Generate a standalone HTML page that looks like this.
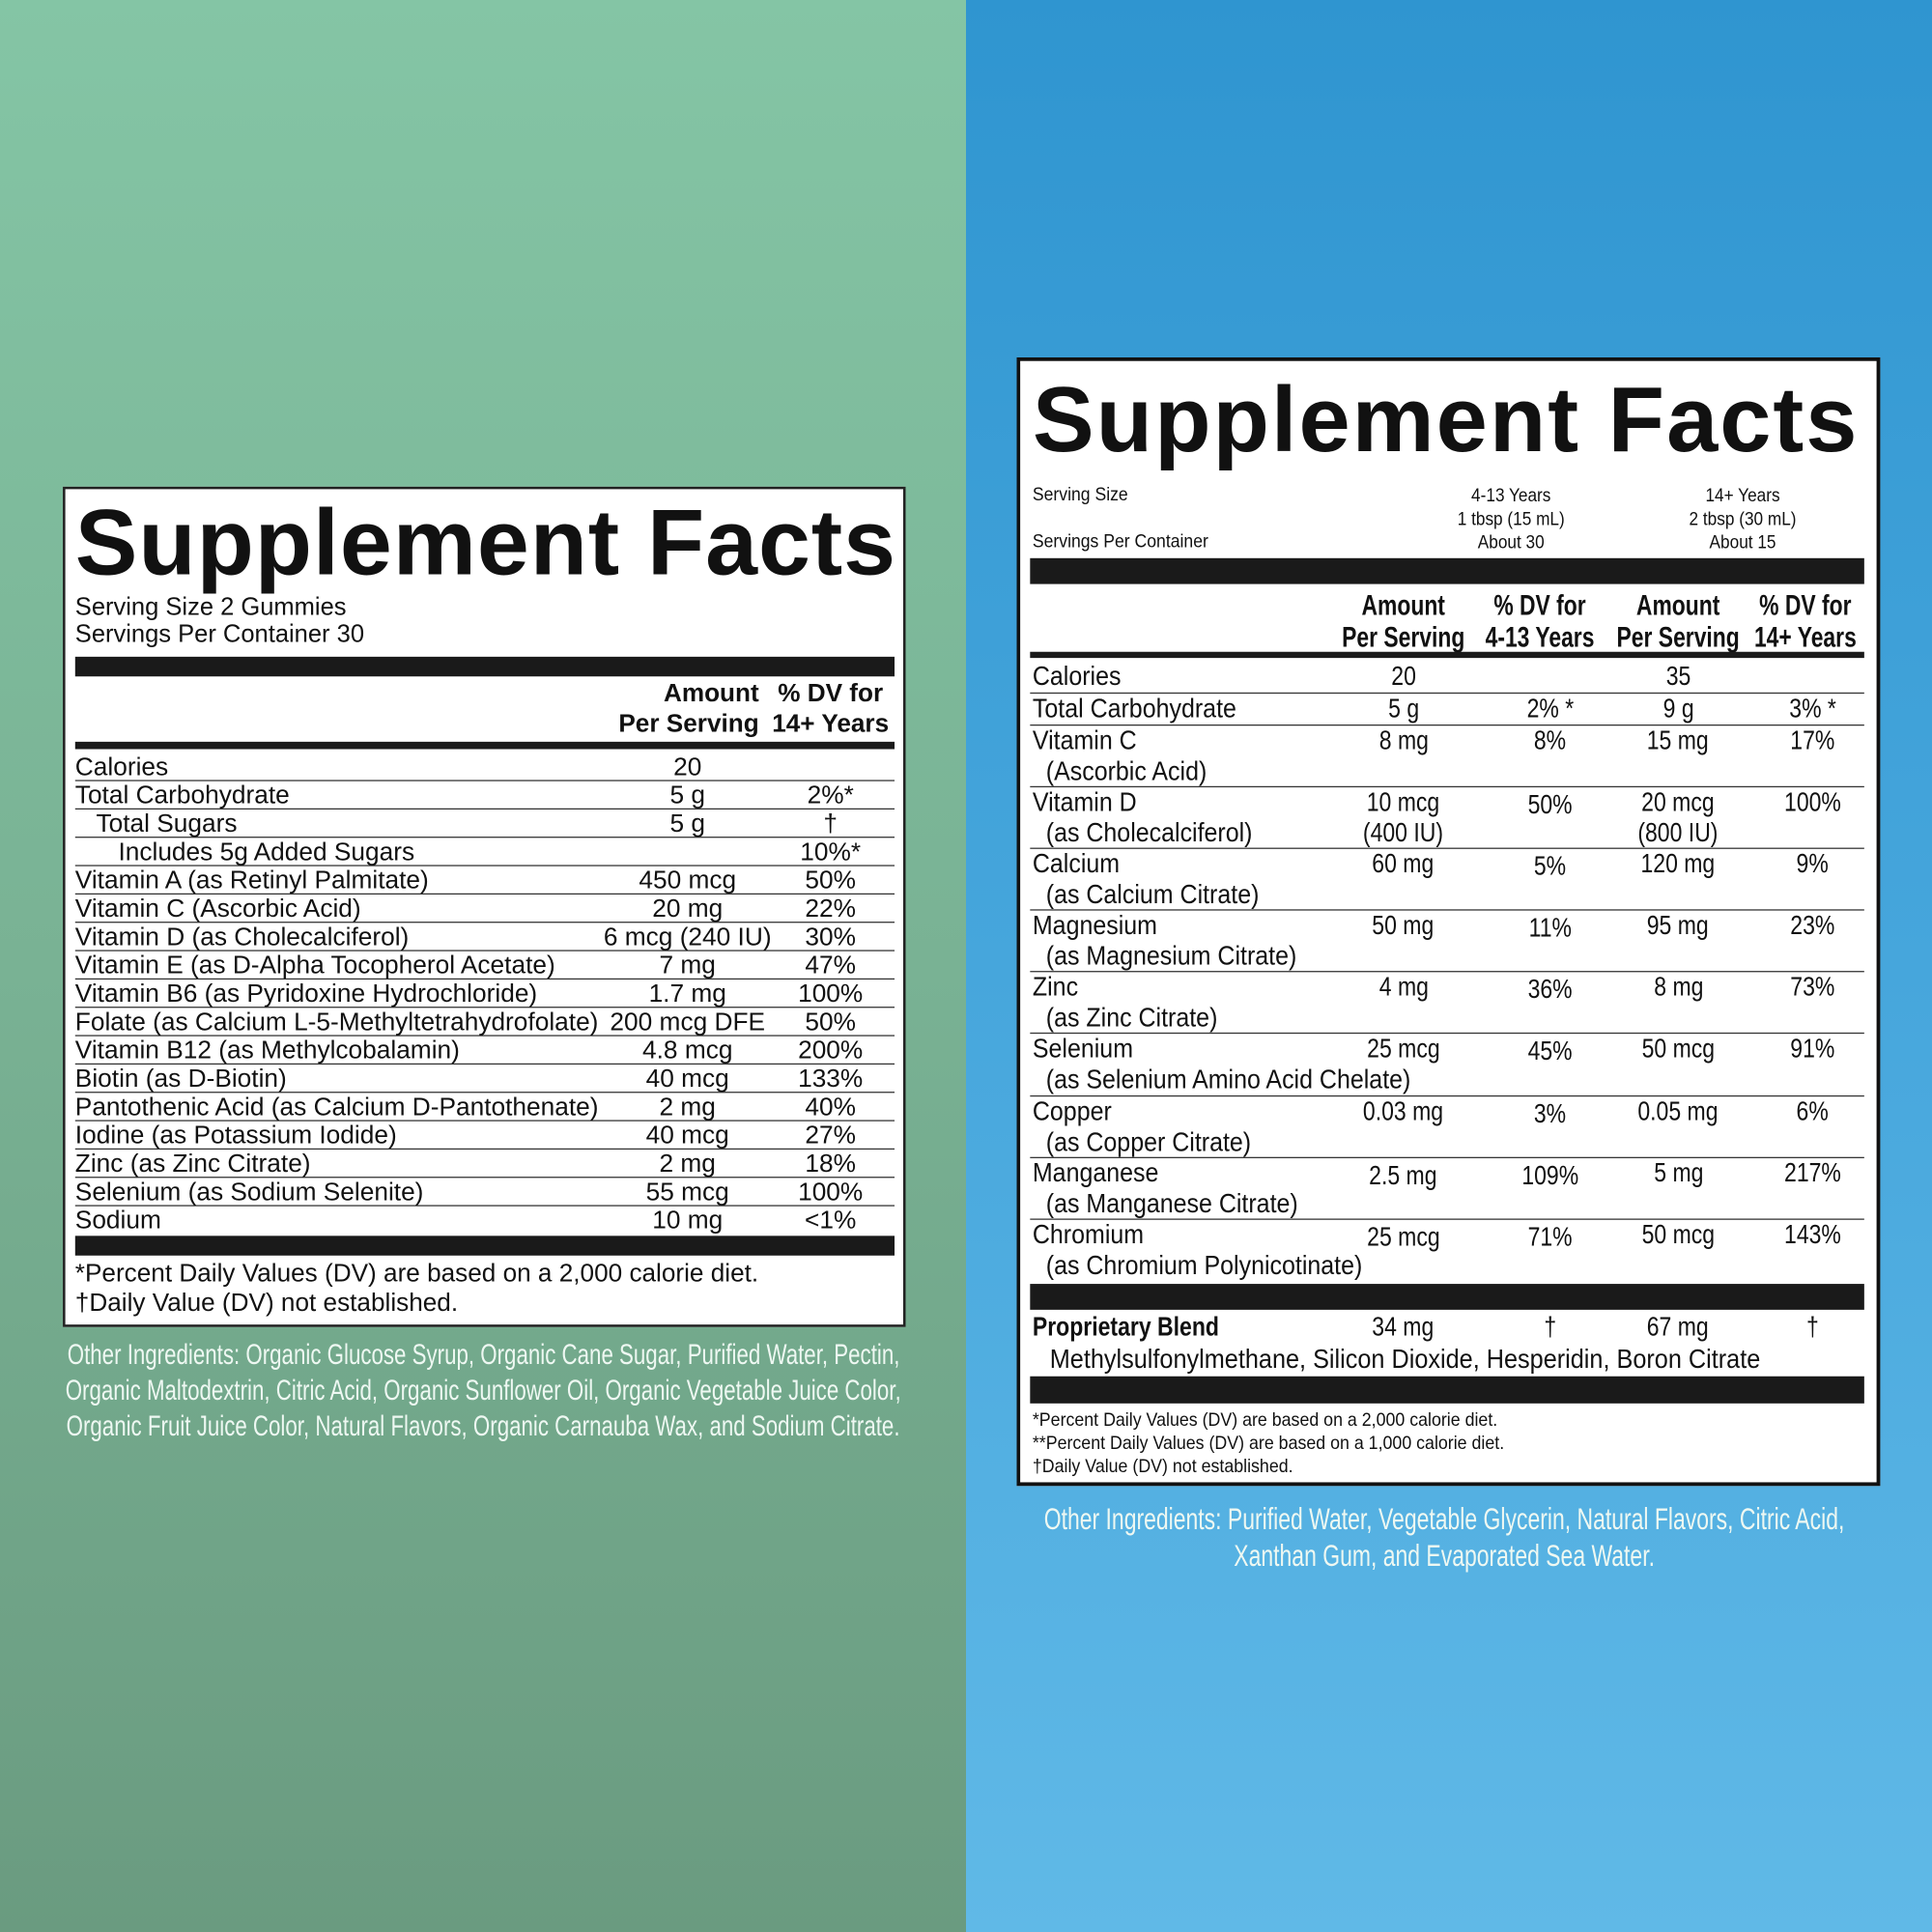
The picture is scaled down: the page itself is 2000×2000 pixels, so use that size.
<!DOCTYPE html>
<html><head><meta charset="utf-8"><style>
*{margin:0;padding:0;box-sizing:border-box}
html,body{width:2000px;height:2000px;overflow:hidden}
#w{position:absolute;left:0;top:0;width:1568px;height:1568px;transform:scale(1.27551);transform-origin:0 0;font-family:"Liberation Sans",sans-serif;color:#111}
.a{position:absolute;white-space:nowrap}
.L{position:absolute;left:0;top:0;width:784px;height:1568px;background:linear-gradient(#84c5a5,#79b294 50%,#6a9b80)}
.R{position:absolute;left:784px;top:0;width:784px;height:1568px;background:linear-gradient(#2f95d0,#46a6dc 50%,#60b9e7)}
.box1{position:absolute;left:51px;top:395px;width:684px;height:682px;background:#fff;border:2px solid #222}
.box2{position:absolute;left:825px;top:290px;width:701px;height:916px;background:#fff;border:3px solid #111}
.bar{position:absolute;background:#1a1a1a}
.hl{position:absolute;height:1px;background:#333}
.lr{position:absolute;left:61px;width:665px;height:23px;font-size:20.6px;line-height:23px;border-bottom:1px solid #333}
.lr span{position:absolute;white-space:nowrap}
.c{display:inline-block;transform:scaleX(.89);transform-origin:left center;white-space:nowrap}
.cc{position:absolute;width:200px;text-align:center;white-space:nowrap}
.cc>span{display:inline-block;transform:scaleX(.82)}
.oi{position:absolute;width:1000px;text-align:center;color:#eef8f2;font-size:23px;white-space:nowrap}
.oi span{display:inline-block;transform:scaleX(.76)}
</style></head><body><div id="w">
<div class="L"></div><div class="R"></div>

<div class="box1"></div>
<div class="a" style="left:61px;top:397px;font-size:76px;font-weight:bold;letter-spacing:0.75px">Supplement Facts</div>
<div class="a" style="left:61px;top:482px;font-size:20px;line-height:22px">Serving Size 2 Gummies<br>Servings Per Container 30</div>
<div class="bar" style="left:61px;top:533px;width:665px;height:16px"></div>
<div class="a" style="left:470px;top:550px;width:146px;text-align:right;font-size:20.5px;font-weight:bold;line-height:25px">Amount<br>Per Serving</div>
<div class="a" style="left:614px;top:550px;width:120px;text-align:center;font-size:20.5px;font-weight:bold;line-height:25px">% DV for<br>14+ Years</div>
<div class="bar" style="left:61px;top:602px;width:665px;height:6px"></div>
<div class="lr" style="top:611px"><span style="left:0">Calories</span><span style="left:397px;width:200px;text-align:center">20</span></div>
<div class="lr" style="top:634px"><span style="left:0">Total Carbohydrate</span><span style="left:397px;width:200px;text-align:center">5 g</span><span style="left:573px;width:80px;text-align:center">2%*</span></div>
<div class="lr" style="top:657px"><span style="left:17px">Total Sugars</span><span style="left:397px;width:200px;text-align:center">5 g</span><span style="left:513px;width:200px;text-align:center">†</span></div>
<div class="lr" style="top:680px"><span style="left:35px">Includes 5g Added Sugars</span><span style="left:513px;width:200px;text-align:center">10%*</span></div>
<div class="lr" style="top:703px"><span style="left:0">Vitamin A (as Retinyl Palmitate)</span><span style="left:397px;width:200px;text-align:center">450 mcg</span><span style="left:513px;width:200px;text-align:center">50%</span></div>
<div class="lr" style="top:726px"><span style="left:0">Vitamin C (Ascorbic Acid)</span><span style="left:397px;width:200px;text-align:center">20 mg</span><span style="left:513px;width:200px;text-align:center">22%</span></div>
<div class="lr" style="top:749px"><span style="left:0">Vitamin D (as Cholecalciferol)</span><span style="left:397px;width:200px;text-align:center">6 mcg (240 IU)</span><span style="left:513px;width:200px;text-align:center">30%</span></div>
<div class="lr" style="top:772px"><span style="left:0">Vitamin E (as D-Alpha Tocopherol Acetate)</span><span style="left:397px;width:200px;text-align:center">7 mg</span><span style="left:513px;width:200px;text-align:center">47%</span></div>
<div class="lr" style="top:795px"><span style="left:0">Vitamin B6 (as Pyridoxine Hydrochloride)</span><span style="left:397px;width:200px;text-align:center">1.7 mg</span><span style="left:513px;width:200px;text-align:center">100%</span></div>
<div class="lr" style="top:818px"><span style="left:0">Folate (as Calcium L-5-Methyltetrahydrofolate)</span><span style="left:397px;width:200px;text-align:center">200 mcg DFE</span><span style="left:513px;width:200px;text-align:center">50%</span></div>
<div class="lr" style="top:841px"><span style="left:0">Vitamin B12 (as Methylcobalamin)</span><span style="left:397px;width:200px;text-align:center">4.8 mcg</span><span style="left:513px;width:200px;text-align:center">200%</span></div>
<div class="lr" style="top:864px"><span style="left:0">Biotin (as D-Biotin)</span><span style="left:397px;width:200px;text-align:center">40 mcg</span><span style="left:513px;width:200px;text-align:center">133%</span></div>
<div class="lr" style="top:887px"><span style="left:0">Pantothenic Acid (as Calcium D-Pantothenate)</span><span style="left:397px;width:200px;text-align:center">2 mg</span><span style="left:513px;width:200px;text-align:center">40%</span></div>
<div class="lr" style="top:910px"><span style="left:0">Iodine (as Potassium Iodide)</span><span style="left:397px;width:200px;text-align:center">40 mcg</span><span style="left:513px;width:200px;text-align:center">27%</span></div>
<div class="lr" style="top:933px"><span style="left:0">Zinc (as Zinc Citrate)</span><span style="left:397px;width:200px;text-align:center">2 mg</span><span style="left:513px;width:200px;text-align:center">18%</span></div>
<div class="lr" style="top:956px"><span style="left:0">Selenium (as Sodium Selenite)</span><span style="left:397px;width:200px;text-align:center">55 mcg</span><span style="left:513px;width:200px;text-align:center">100%</span></div>
<div class="lr" style="top:979px;border-bottom:none"><span style="left:0">Sodium</span><span style="left:397px;width:200px;text-align:center">10 mg</span><span style="left:513px;width:200px;text-align:center">&lt;1%</span></div>
<div class="bar" style="left:61px;top:1003px;width:665px;height:16px"></div>
<div class="a" style="left:61px;top:1022px;font-size:20.5px;line-height:24px">*Percent Daily Values (DV) are based on a 2,000 calorie diet.<br>†Daily Value (DV) not established.</div>
<div class="oi" style="left:-108px;top:1086px"><span>Other Ingredients: Organic Glucose Syrup, Organic Cane Sugar, Purified Water, Pectin,</span></div>
<div class="oi" style="left:-108px;top:1115px"><span>Organic Maltodextrin, Citric Acid, Organic Sunflower Oil, Organic Vegetable Juice Color,</span></div>
<div class="oi" style="left:-108px;top:1144px"><span>Organic Fruit Juice Color, Natural Flavors, Organic Carnauba Wax, and Sodium Citrate.</span></div>

<div class="box2"></div>
<div class="a" style="left:838px;top:297px;font-size:75px;font-weight:bold;letter-spacing:1.55px">Supplement Facts</div>
<div class="a" style="left:838px;top:393px;font-size:15px"><span class="c" style="transform:scaleX(.92)">Serving Size</span></div>
<div class="a" style="left:838px;top:431px;font-size:15px"><span class="c" style="transform:scaleX(.92)">Servings Per Container</span></div>
<div class="cc" style="left:1126px;top:393px;font-size:15px;line-height:19px"><span style="transform:scaleX(.9)">4-13 Years<br>1 tbsp (15 mL)<br>About 30</span></div>
<div class="cc" style="left:1314px;top:393px;font-size:15px;line-height:19px"><span style="transform:scaleX(.9)">14+ Years<br>2 tbsp (30 mL)<br>About 15</span></div>
<div class="bar" style="left:836px;top:453px;width:677px;height:21px"></div>
<div class="cc" style="left:1039px;top:478px;font-size:23px;font-weight:bold;line-height:26px"><span style="transform:scaleX(.78)">Amount<br>Per Serving</span></div>
<div class="cc" style="left:1150px;top:478px;font-size:23px;font-weight:bold;line-height:26px"><span style="transform:scaleX(.78)">% DV for<br>4-13 Years</span></div>
<div class="cc" style="left:1262px;top:478px;font-size:23px;font-weight:bold;line-height:26px"><span style="transform:scaleX(.78)">Amount<br>Per Serving</span></div>
<div class="cc" style="left:1365px;top:478px;font-size:23px;font-weight:bold;line-height:26px"><span style="transform:scaleX(.78)">% DV for<br>14+ Years</span></div>
<div class="bar" style="left:836px;top:529px;width:677px;height:5px"></div>

<div class="hl" style="left:836px;top:562px;width:677px"></div>
<div class="hl" style="left:836px;top:588px;width:677px"></div>
<div class="hl" style="left:836px;top:638px;width:677px"></div>
<div class="hl" style="left:836px;top:688px;width:677px"></div>
<div class="hl" style="left:836px;top:738px;width:677px"></div>
<div class="hl" style="left:836px;top:788px;width:677px"></div>
<div class="hl" style="left:836px;top:838px;width:677px"></div>
<div class="hl" style="left:836px;top:889px;width:677px"></div>
<div class="hl" style="left:836px;top:939px;width:677px"></div>
<div class="hl" style="left:836px;top:989px;width:677px"></div>

<div style="font-size:22px;line-height:25px">
<div class="a" style="left:838px;top:536px"><span class="c">Calories</span></div>
<div class="cc" style="left:1039px;top:536px"><span>20</span></div>
<div class="cc" style="left:1262px;top:536px"><span>35</span></div>

<div class="a" style="left:838px;top:562px"><span class="c">Total Carbohydrate</span></div>
<div class="cc" style="left:1039px;top:562px"><span>5 g</span></div>
<div class="cc" style="left:1158px;top:562px"><span>2% *</span></div>
<div class="cc" style="left:1262px;top:562px"><span>9 g</span></div>
<div class="cc" style="left:1371px;top:562px"><span>3% *</span></div>

<div class="a" style="left:838px;top:588px"><span class="c">Vitamin C<br>&nbsp;&nbsp;(Ascorbic Acid)</span></div>
<div class="cc" style="left:1039px;top:588px"><span>8 mg</span></div>
<div class="cc" style="left:1158px;top:588px"><span>8%</span></div>
<div class="cc" style="left:1262px;top:588px"><span>15 mg</span></div>
<div class="cc" style="left:1371px;top:588px"><span>17%</span></div>

<div class="a" style="left:838px;top:638px"><span class="c">Vitamin D<br>&nbsp;&nbsp;(as Cholecalciferol)</span></div>
<div class="cc" style="left:1039px;top:638px"><span>10 mcg<br>(400 IU)</span></div>
<div class="cc" style="left:1158px;top:640px"><span>50%</span></div>
<div class="cc" style="left:1262px;top:638px"><span>20 mcg<br>(800 IU)</span></div>
<div class="cc" style="left:1371px;top:638px"><span>100%</span></div>

<div class="a" style="left:838px;top:688px"><span class="c">Calcium<br>&nbsp;&nbsp;(as Calcium Citrate)</span></div>
<div class="cc" style="left:1039px;top:688px"><span>60 mg</span></div>
<div class="cc" style="left:1158px;top:690px"><span>5%</span></div>
<div class="cc" style="left:1262px;top:688px"><span>120 mg</span></div>
<div class="cc" style="left:1371px;top:688px"><span>9%</span></div>

<div class="a" style="left:838px;top:738px"><span class="c">Magnesium<br>&nbsp;&nbsp;(as Magnesium Citrate)</span></div>
<div class="cc" style="left:1039px;top:738px"><span>50 mg</span></div>
<div class="cc" style="left:1158px;top:740px"><span>11%</span></div>
<div class="cc" style="left:1262px;top:738px"><span>95 mg</span></div>
<div class="cc" style="left:1371px;top:738px"><span>23%</span></div>

<div class="a" style="left:838px;top:788px"><span class="c">Zinc<br>&nbsp;&nbsp;(as Zinc Citrate)</span></div>
<div class="cc" style="left:1039px;top:788px"><span>4 mg</span></div>
<div class="cc" style="left:1158px;top:790px"><span>36%</span></div>
<div class="cc" style="left:1262px;top:788px"><span>8 mg</span></div>
<div class="cc" style="left:1371px;top:788px"><span>73%</span></div>

<div class="a" style="left:838px;top:838px"><span class="c">Selenium<br>&nbsp;&nbsp;(as Selenium Amino Acid Chelate)</span></div>
<div class="cc" style="left:1039px;top:838px"><span>25 mcg</span></div>
<div class="cc" style="left:1158px;top:840px"><span>45%</span></div>
<div class="cc" style="left:1262px;top:838px"><span>50 mcg</span></div>
<div class="cc" style="left:1371px;top:838px"><span>91%</span></div>

<div class="a" style="left:838px;top:889px"><span class="c">Copper<br>&nbsp;&nbsp;(as Copper Citrate)</span></div>
<div class="cc" style="left:1039px;top:889px"><span>0.03 mg</span></div>
<div class="cc" style="left:1158px;top:891px"><span>3%</span></div>
<div class="cc" style="left:1262px;top:889px"><span>0.05 mg</span></div>
<div class="cc" style="left:1371px;top:889px"><span>6%</span></div>

<div class="a" style="left:838px;top:939px"><span class="c">Manganese<br>&nbsp;&nbsp;(as Manganese Citrate)</span></div>
<div class="cc" style="left:1039px;top:941px"><span>2.5 mg</span></div>
<div class="cc" style="left:1158px;top:941px"><span>109%</span></div>
<div class="cc" style="left:1262px;top:939px"><span>5 mg</span></div>
<div class="cc" style="left:1371px;top:939px"><span>217%</span></div>

<div class="a" style="left:838px;top:989px"><span class="c">Chromium<br>&nbsp;&nbsp;(as Chromium Polynicotinate)</span></div>
<div class="cc" style="left:1039px;top:991px"><span>25 mcg</span></div>
<div class="cc" style="left:1158px;top:991px"><span>71%</span></div>
<div class="cc" style="left:1262px;top:989px"><span>50 mcg</span></div>
<div class="cc" style="left:1371px;top:989px"><span>143%</span></div>
</div>
<div class="bar" style="left:836px;top:1042px;width:677px;height:21px"></div>
<div style="font-size:22px;line-height:25px">
<div class="a" style="left:838px;top:1064px;font-weight:bold"><span class="c" style="transform:scaleX(.82)">Proprietary Blend</span></div>
<div class="cc" style="left:1039px;top:1064px"><span>34 mg</span></div>
<div class="cc" style="left:1158px;top:1064px"><span>†</span></div>
<div class="cc" style="left:1262px;top:1064px"><span>67 mg</span></div>
<div class="cc" style="left:1371px;top:1064px"><span>†</span></div>
<div class="a" style="left:852px;top:1090px"><span class="c" style="transform:scaleX(.9)">Methylsulfonylmethane, Silicon Dioxide, Hesperidin, Boron Citrate</span></div>
</div>
<div class="bar" style="left:836px;top:1117px;width:677px;height:22px"></div>
<div class="a" style="left:838px;top:1143px;font-size:15px;line-height:19px"><span class="c" style="transform:scaleX(.93)">*Percent Daily Values (DV) are based on a 2,000 calorie diet.<br>**Percent Daily Values (DV) are based on a 1,000 calorie diet.<br>†Daily Value (DV) not established.</span></div>
<div class="oi" style="left:672px;top:1219px;font-size:25px"><span style="transform:scaleX(.72)">Other Ingredients: Purified Water, Vegetable Glycerin, Natural Flavors, Citric Acid,</span></div>
<div class="oi" style="left:672px;top:1249px;font-size:25px"><span style="transform:scaleX(.72)">Xanthan Gum, and Evaporated Sea Water.</span></div>
</div></body></html>
